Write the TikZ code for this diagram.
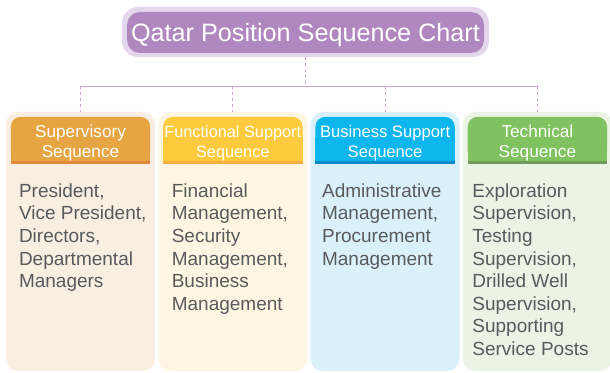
\documentclass[tikz,border=0pt]{standalone}
\usepackage{fontspec}
\setmainfont{Liberation Sans}

\definecolor{titlelight}{HTML}{E4D6EB}
\definecolor{titlepurple}{HTML}{B088BF}
\definecolor{linkpurple}{HTML}{C9A6D5}
\definecolor{bodygray}{HTML}{595A5C}
\definecolor{supbg}{HTML}{F8EEE1}
\definecolor{suphead}{HTML}{E6A443}
\definecolor{supline}{HTML}{E3873A}
\definecolor{funbg}{HTML}{FEF6E2}
\definecolor{funhead}{HTML}{FECB3E}
\definecolor{funline}{HTML}{F6AE3E}
\definecolor{busbg}{HTML}{DAF1FB}
\definecolor{bushead}{HTML}{0DB7EE}
\definecolor{busline}{HTML}{0A8CCC}
\definecolor{tecbg}{HTML}{EBF3E5}
\definecolor{techead}{HTML}{80C25F}
\definecolor{tecline}{HTML}{6C9C58}

\begin{document}
\begin{tikzpicture}[x=1pt,y=1pt,
col/.style = {minimum width=149pt, minimum height=259pt, rounded corners=12pt, inner sep=0pt},
head/.style = {text=white, align=center, inner sep=0pt, font=\fontsize{17.2}{20}\selectfont},
body/.style = {text=bodygray, align=left, anchor=north west, inner sep=0pt, font=\fontsize{19}{22.6}\selectfont},
link/.style = {draw=linkpurple, line width=0.9pt}]
\useasboundingbox (0,0) rectangle (610,372);
\clip (0,0) rectangle (610,372);

% title
\node[fill=titlelight, minimum width=367pt, minimum height=50pt, rounded corners=16pt] (title) at (305.5,340) {};
\node[fill=titlepurple, minimum width=357pt, minimum height=41pt, rounded corners=13pt, text=white, text depth=0pt, font=\fontsize{25.2}{28}\selectfont] (titlein) at (305.5,339.5) {Qatar Position Sequence Chart};

% columns
\node[col, fill=supbg] (sup) at (80.5,130.5) {};
\node[col, fill=funbg] (fun) at (232.8,130.5) {};
\node[col, fill=busbg] (bus) at (385.1,130.5) {};
\node[col, fill=tecbg] (tec) at (537.4,130.5) {};

% connectors
\draw[link, dash pattern=on 3pt off 3pt] (title.south) -- ++(0,-29) coordinate (rail);
\draw[link] (rail -| sup.north) -- (rail -| tec.north);
\draw[link, dash pattern=on 3pt off 3pt] (rail -| sup.north) -- (sup.north);
\draw[link, dash pattern=on 3pt off 3pt] (rail -| fun.north) -- (fun.north);
\draw[link, dash pattern=on 3pt off 3pt] (rail -| bus.north) -- (bus.north);
\draw[link, dash pattern=on 3pt off 3pt] (rail -| tec.north) -- (tec.north);

% headers
\fill[suphead, rounded corners=10pt] ([xshift=5pt,yshift=-49pt]sup.north west) rectangle ([xshift=-5pt,yshift=-5pt]sup.north east);
\fill[suphead] ([xshift=5pt,yshift=-49pt]sup.north west) rectangle ([xshift=-5pt,yshift=-25pt]sup.north east);
\fill[supline] ([xshift=5pt,yshift=-52pt]sup.north west) rectangle ([xshift=-5pt,yshift=-49pt]sup.north east);
\fill[funhead, rounded corners=10pt] ([xshift=5pt,yshift=-49pt]fun.north west) rectangle ([xshift=-5pt,yshift=-5pt]fun.north east);
\fill[funhead] ([xshift=5pt,yshift=-49pt]fun.north west) rectangle ([xshift=-5pt,yshift=-25pt]fun.north east);
\fill[funline] ([xshift=5pt,yshift=-52pt]fun.north west) rectangle ([xshift=-5pt,yshift=-49pt]fun.north east);
\fill[bushead, rounded corners=10pt] ([xshift=5pt,yshift=-49pt]bus.north west) rectangle ([xshift=-5pt,yshift=-5pt]bus.north east);
\fill[bushead] ([xshift=5pt,yshift=-49pt]bus.north west) rectangle ([xshift=-5pt,yshift=-25pt]bus.north east);
\fill[busline] ([xshift=5pt,yshift=-52pt]bus.north west) rectangle ([xshift=-5pt,yshift=-49pt]bus.north east);
\fill[techead, rounded corners=10pt] ([xshift=5pt,yshift=-49pt]tec.north west) rectangle ([xshift=-5pt,yshift=-5pt]tec.north east);
\fill[techead] ([xshift=5pt,yshift=-49pt]tec.north west) rectangle ([xshift=-5pt,yshift=-25pt]tec.north east);
\fill[tecline] ([xshift=5pt,yshift=-52pt]tec.north west) rectangle ([xshift=-5pt,yshift=-49pt]tec.north east);

\node[head] (suphd) at ([yshift=-31pt]sup.north) {Supervisory\\Sequence};
\node[head, font=\fontsize{16.3}{20}\selectfont] (funhd) at ([yshift=-31pt]fun.north) {Functional Support\\Sequence};
\node[head, font=\fontsize{16.6}{20}\selectfont] (bushd) at ([yshift=-31pt]bus.north) {Business Support\\Sequence};
\node[head] (techd) at ([yshift=-31pt]tec.north) {Technical\\Sequence};

% items
\node[body] (suptx) at ([xshift=13pt,yshift=-71.5pt]sup.north west) {President,\\Vice President,\\Directors,\\Departmental\\Managers};
\node[body] (funtx) at ([xshift=13.5pt,yshift=-71.5pt]fun.north west) {Financial\\Management,\\Security\\Management,\\Business\\Management};
\node[body] (bustx) at ([xshift=11.5pt,yshift=-71.5pt]bus.north west) {Administrative\\Management,\\Procurement\\Management};
\node[body] (tectx) at ([xshift=9.5pt,yshift=-71.5pt]tec.north west) {Exploration\\Supervision,\\Testing\\Supervision,\\Drilled Well\\Supervision,\\Supporting\\Service Posts};
\end{tikzpicture}
\end{document}
